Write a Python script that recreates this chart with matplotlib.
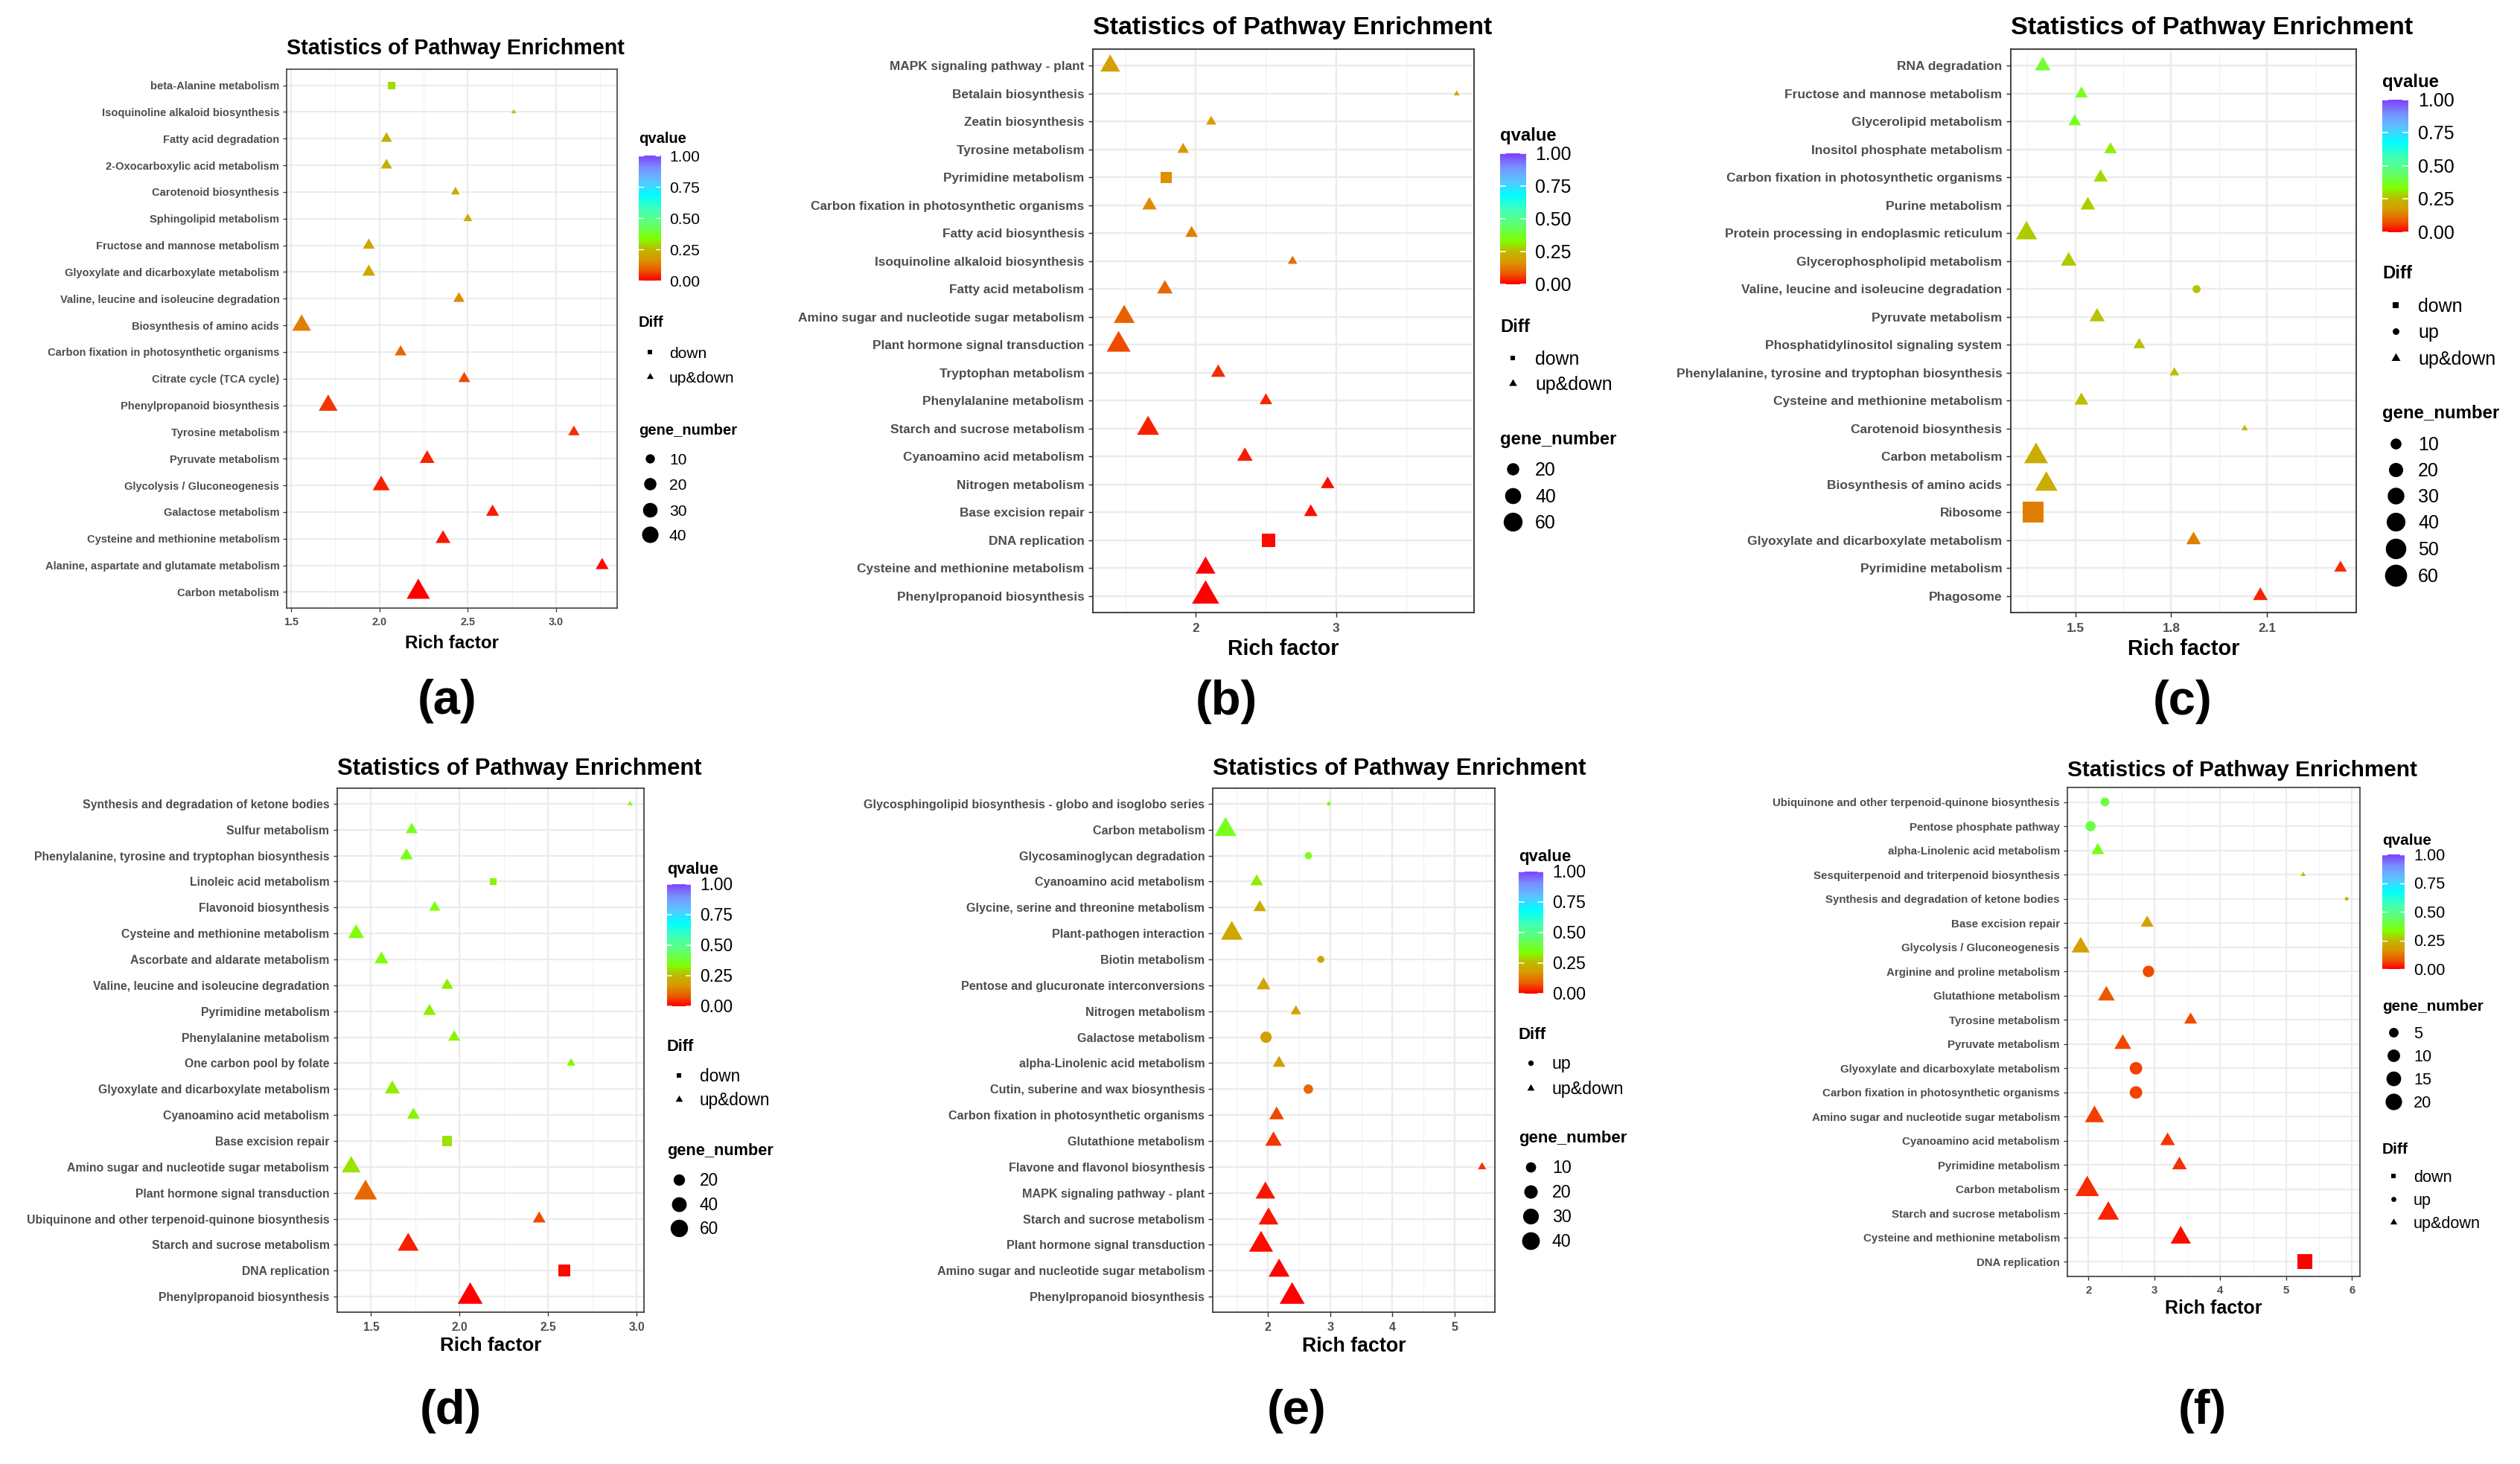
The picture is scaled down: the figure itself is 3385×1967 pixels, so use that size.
import numpy as np
import matplotlib.pyplot as plt
from matplotlib.colors import LinearSegmentedColormap
from matplotlib.path import Path

plt.rcParams['font.family'] = ['Liberation Sans', 'DejaVu Sans']

W, H = 3385, 1967
DPI = 100
PT = 72.0 / DPI   # points per pixel

# ---------------- data (pathways listed top to bottom) ----------------
pathways_a = ["beta-Alanine metabolism", "Isoquinoline alkaloid biosynthesis", "Fatty acid degradation",
              "2-Oxocarboxylic acid metabolism", "Carotenoid biosynthesis", "Sphingolipid metabolism",
              "Fructose and mannose metabolism", "Glyoxylate and dicarboxylate metabolism",
              "Valine, leucine and isoleucine degradation", "Biosynthesis of amino acids",
              "Carbon fixation in photosynthetic organisms", "Citrate cycle (TCA cycle)",
              "Phenylpropanoid biosynthesis", "Tyrosine metabolism", "Pyruvate metabolism",
              "Glycolysis / Gluconeogenesis", "Galactose metabolism", "Cysteine and methionine metabolism",
              "Alanine, aspartate and glutamate metabolism", "Carbon metabolism"]
rich_a = [2.07, 2.76, 2.04, 2.04, 2.43, 2.50, 1.94, 1.94, 2.45, 1.56,
          2.12, 2.48, 1.71, 3.10, 2.27, 2.01, 2.64, 2.36, 3.26, 2.22]
q_a = [0.29, 0.27, 0.23, 0.23, 0.22, 0.22, 0.21, 0.21, 0.15, 0.13,
       0.10, 0.07, 0.05, 0.04, 0.035, 0.03, 0.025, 0.02, 0.01, 0.0]
genes_a = [7, 3, 8, 8, 5, 5, 9, 11, 8, 27, 9, 9, 27, 8, 15, 21, 11, 15, 11, 45]
diff_a = ["down"] + ["up&down"] * 19

pathways_b = ["MAPK signaling pathway - plant", "Betalain biosynthesis", "Zeatin biosynthesis",
              "Tyrosine metabolism", "Pyrimidine metabolism", "Carbon fixation in photosynthetic organisms",
              "Fatty acid biosynthesis", "Isoquinoline alkaloid biosynthesis", "Fatty acid metabolism",
              "Amino sugar and nucleotide sugar metabolism", "Plant hormone signal transduction",
              "Tryptophan metabolism", "Phenylalanine metabolism", "Starch and sucrose metabolism",
              "Cyanoamino acid metabolism", "Nitrogen metabolism", "Base excision repair",
              "DNA replication", "Cysteine and methionine metabolism", "Phenylpropanoid biosynthesis"]
rich_b = [1.39, 3.86, 2.11, 1.91, 1.79, 1.67, 1.97, 2.69, 1.78, 1.49,
          1.45, 2.16, 2.50, 1.66, 2.35, 2.94, 2.82, 2.52, 2.07, 2.07]
q_b = [0.19, 0.19, 0.18, 0.17, 0.16, 0.15, 0.13, 0.11, 0.10, 0.09,
       0.07, 0.04, 0.035, 0.03, 0.025, 0.015, 0.012, 0.008, 0.003, 0.0]
genes_b = [32, 3, 6, 8, 23, 14, 10, 5, 17, 37, 52, 14, 10, 42, 17, 12, 12, 35, 32, 70]
diff_b = ["up&down"] * 4 + ["down"] + ["up&down"] * 12 + ["down"] + ["up&down"] * 2

pathways_c = ["RNA degradation", "Fructose and mannose metabolism", "Glycerolipid metabolism",
              "Inositol phosphate metabolism", "Carbon fixation in photosynthetic organisms",
              "Purine metabolism", "Protein processing in endoplasmic reticulum",
              "Glycerophospholipid metabolism", "Valine, leucine and isoleucine degradation",
              "Pyruvate metabolism", "Phosphatidylinositol signaling system",
              "Phenylalanine, tyrosine and tryptophan biosynthesis", "Cysteine and methionine metabolism",
              "Carotenoid biosynthesis", "Carbon metabolism", "Biosynthesis of amino acids", "Ribosome",
              "Glyoxylate and dicarboxylate metabolism", "Pyrimidine metabolism", "Phagosome"]
rich_c = [1.398, 1.519, 1.498, 1.61, 1.579, 1.539, 1.347, 1.479, 1.879, 1.568,
          1.70, 1.81, 1.519, 2.03, 1.377, 1.409, 1.368, 1.87, 2.33, 2.079]
q_c = [0.38, 0.36, 0.36, 0.31, 0.29, 0.28, 0.27, 0.27, 0.265, 0.265,
       0.26, 0.26, 0.26, 0.255, 0.22, 0.22, 0.13, 0.13, 0.04, 0.035]
genes_c = [12, 7, 7, 7, 9, 10, 26, 12, 5, 11, 6, 4, 9, 3, 35, 30, 65, 10, 7, 10]
diff_c = ["up&down"] * 8 + ["up"] + ["up&down"] * 7 + ["down"] + ["up&down"] * 3

pathways_d = ["Synthesis and degradation of ketone bodies", "Sulfur metabolism",
              "Phenylalanine, tyrosine and tryptophan biosynthesis", "Linoleic acid metabolism",
              "Flavonoid biosynthesis", "Cysteine and methionine metabolism", "Ascorbate and aldarate metabolism",
              "Valine, leucine and isoleucine degradation", "Pyrimidine metabolism", "Phenylalanine metabolism",
              "One carbon pool by folate", "Glyoxylate and dicarboxylate metabolism", "Cyanoamino acid metabolism",
              "Base excision repair", "Amino sugar and nucleotide sugar metabolism",
              "Plant hormone signal transduction", "Ubiquinone and other terpenoid-quinone biosynthesis",
              "Starch and sucrose metabolism", "DNA replication", "Phenylpropanoid biosynthesis"]
rich_d = [2.963, 1.73, 1.70, 2.19, 1.86, 1.416, 1.559, 1.93, 1.83, 1.97,
          2.63, 1.62, 1.74, 1.93, 1.388, 1.469, 2.45, 1.71, 2.59, 2.06]
q_d = [0.33, 0.36, 0.35, 0.32, 0.34, 0.33, 0.34, 0.31, 0.31, 0.32,
       0.32, 0.31, 0.32, 0.30, 0.30, 0.10, 0.07, 0.03, 0.01, 0.0]
genes_d = [2, 10, 12, 7, 8, 22, 15, 10, 12, 10, 4, 19, 12, 19, 35, 57, 12, 45, 31, 70]
diff_d = ["up&down"] * 3 + ["down"] + ["up&down"] * 9 + ["down"] + ["up&down"] * 4 + ["down", "up&down"]

pathways_e = ["Glycosphingolipid biosynthesis - globo and isoglobo series", "Carbon metabolism",
              "Glycosaminoglycan degradation", "Cyanoamino acid metabolism",
              "Glycine, serine and threonine metabolism", "Plant-pathogen interaction", "Biotin metabolism",
              "Pentose and glucuronate interconversions", "Nitrogen metabolism", "Galactose metabolism",
              "alpha-Linolenic acid metabolism", "Cutin, suberine and wax biosynthesis",
              "Carbon fixation in photosynthetic organisms", "Glutathione metabolism",
              "Flavone and flavonol biosynthesis", "MAPK signaling pathway - plant",
              "Starch and sucrose metabolism", "Plant hormone signal transduction",
              "Amino sugar and nucleotide sugar metabolism", "Phenylpropanoid biosynthesis"]
rich_e = [2.98, 1.32, 2.65, 1.82, 1.87, 1.42, 2.85, 1.93, 2.45, 1.97,
          2.18, 2.65, 2.14, 2.09, 5.44, 1.96, 2.01, 1.89, 2.18, 2.39]
q_e = [0.33, 0.36, 0.35, 0.31, 0.22, 0.21, 0.20, 0.19, 0.19, 0.18,
       0.18, 0.10, 0.07, 0.05, 0.045, 0.02, 0.02, 0.015, 0.005, 0.0]
genes_e = [2, 32, 4, 8, 8, 32, 4, 10, 5, 13, 8, 8, 12, 16, 3, 25, 25, 41, 29, 45]
diff_e = ["up", "up&down", "up", "up&down", "up&down", "up&down", "up", "up&down", "up&down", "up",
          "up&down", "up"] + ["up&down"] * 8

pathways_f = ["Ubiquinone and other terpenoid-quinone biosynthesis", "Pentose phosphate pathway",
              "alpha-Linolenic acid metabolism", "Sesquiterpenoid and triterpenoid biosynthesis",
              "Synthesis and degradation of ketone bodies", "Base excision repair",
              "Glycolysis / Gluconeogenesis", "Arginine and proline metabolism", "Glutathione metabolism",
              "Tyrosine metabolism", "Pyruvate metabolism", "Glyoxylate and dicarboxylate metabolism",
              "Carbon fixation in photosynthetic organisms", "Amino sugar and nucleotide sugar metabolism",
              "Cyanoamino acid metabolism", "Pyrimidine metabolism", "Carbon metabolism",
              "Starch and sucrose metabolism", "Cysteine and methionine metabolism", "DNA replication"]
rich_f = [2.25, 2.03, 2.14, 5.26, 5.92, 2.89, 1.88, 2.91, 2.27, 3.55,
          2.52, 2.72, 2.72, 2.09, 3.20, 3.38, 1.98, 2.30, 3.40, 5.29]
q_f = [0.40, 0.41, 0.35, 0.26, 0.24, 0.19, 0.19, 0.07, 0.08, 0.07,
       0.065, 0.06, 0.06, 0.055, 0.05, 0.045, 0.04, 0.035, 0.015, 0.0]
genes_f = [4, 6, 5, 1, 1, 5, 12, 8, 10, 5, 10, 10, 10, 14, 7, 7, 23, 18, 16, 20]
diff_f = ["up", "up", "up&down", "up&down", "up", "up&down", "up&down", "up", "up&down", "up&down",
          "up&down", "up", "up"] + ["up&down"] * 6 + ["down"]

# ---------------- styling helpers ----------------
qcmap = LinearSegmentedColormap.from_list("qvalue", [
    (0.0, "#FF0000"), (0.08, "#EC5A00"), (0.17, "#D89A00"), (0.25, "#C0B800"),
    (0.33, "#80FF00"), (0.45, "#60FF70"), (0.57, "#40FFB8"), (0.68, "#00FFFF"),
    (0.80, "#60C0FF"), (0.90, "#7890FF"), (1.0, "#8040FF")])

TRI = Path([(0, 1), (-0.866, -0.5), (0.866, -0.5), (0, 1)],
           [Path.MOVETO, Path.LINETO, Path.LINETO, Path.CLOSEPOLY])
SHAPES = {"down": "s", "up": "o", "up&down": TRI}
SHAPE_FACTOR = {"down": 0.665, "up": 0.75, "up&down": 1.01}


def ggsize(g, lo, hi):
    # scale_size(range = c(1, 6)) -> point fontsize in R points
    t = (np.asarray(g, float) - lo) / (hi - lo)
    return (1 + 5 * np.sqrt(np.clip(t, 0, 1))) * 2.845 + 0.945


def marker_pt(F, K, shape):
    px = SHAPE_FACTOR[shape] * np.asarray(F) * K
    if shape == "up&down":
        return px * PT * 2 / np.sqrt(3)
    return px * PT


panels = [
    dict(tag="(a)", names=pathways_a, rich=rich_a, q=q_a, genes=genes_a, diff=diff_a,
         box=(385, 93, 829, 817), title_y=63, xlab_y=862, sf=1.0, K=1.72,
         xt=[1.5, 2.0, 2.5, 3.0], xm=[1.75, 2.25, 2.75, 3.25], fmt="{:.1f}",
         cbar=(858, 209, 887, 377), qt=187, dt=433, drows=[473, 506], dkeys=["down", "up&down"],
         gt=578, grows=[616, 650, 685, 718], gkeys=[10, 20, 30, 40], kx=873, lx=899, lab=(601, 942)),
    dict(tag="(b)", names=pathways_b, rich=rich_b, q=q_b, genes=genes_b, diff=diff_b,
         box=(1468, 66, 1980, 823), title_y=34, xlab_y=870, sf=1.185, K=2.0,
         xt=[2, 3], xm=[1.5, 2.5, 3.5], fmt="{:.0f}",
         cbar=(2015, 206, 2050, 382), qt=183, dt=439, drows=[481, 515], dkeys=["down", "up&down"],
         gt=590, grows=[630, 666, 701], gkeys=[20, 40, 60], kx=2032, lx=2062, lab=(1647, 943)),
    dict(tag="(c)", names=pathways_c, rich=rich_c, q=q_c, genes=genes_c, diff=diff_c,
         box=(2701, 66, 3165, 823), title_y=34, xlab_y=870, sf=1.19, K=2.27,
         xt=[1.5, 1.8, 2.1], xm=[1.35, 1.65, 1.95, 2.25], fmt="{:.1f}",
         cbar=(3200, 134, 3235, 312), qt=111, dt=367, drows=[410, 445, 481], dkeys=["down", "up", "up&down"],
         gt=555, grows=[596, 631, 666, 701, 737, 773], gkeys=[10, 20, 30, 40, 50, 60],
         kx=3218, lx=3248, lab=(2932, 943)),
    dict(tag="(d)", names=pathways_d, rich=rich_d, q=q_d, genes=genes_d, diff=diff_d,
         box=(453, 1059, 865, 1763), title_y=1030, xlab_y=1806, sf=1.08, K=1.84,
         xt=[1.5, 2.0, 2.5, 3.0], xm=[1.75, 2.25, 2.75], fmt="{:.1f}",
         cbar=(896, 1188, 928, 1352), qt=1168, dt=1406, drows=[1445, 1477], dkeys=["down", "up&down"],
         gt=1546, grows=[1585, 1618, 1650], gkeys=[20, 40, 60], kx=912, lx=940, lab=(605, 1896)),
    dict(tag="(e)", names=pathways_e, rich=rich_e, q=q_e, genes=genes_e, diff=diff_e,
         box=(1629, 1059, 2008, 1763), title_y=1030, xlab_y=1806, sf=1.105, K=1.85,
         xt=[2, 3, 4, 5], xm=[1.5, 2.5, 3.5, 4.5, 5.5], fmt="{:.0f}",
         cbar=(2040, 1171, 2073, 1335), qt=1151, dt=1390, drows=[1428, 1462], dkeys=["up", "up&down"],
         gt=1529, grows=[1568, 1601, 1634, 1667], gkeys=[10, 20, 30, 40], kx=2056, lx=2085, lab=(1742, 1896)),
    dict(tag="(f)", names=pathways_f, rich=rich_f, q=q_f, genes=genes_f, diff=diff_f,
         box=(2777, 1058, 3170, 1715), title_y=1032, xlab_y=1756, sf=1.033, K=1.74,
         xt=[2, 3, 4, 5, 6], xm=[2.5, 3.5, 4.5, 5.5], fmt="{:.0f}",
         cbar=(3200, 1148, 3230, 1302), qt=1129, dt=1544, drows=[1580, 1611, 1642],
         dkeys=["down", "up", "up&down"],
         gt=1352, grows=[1387, 1418, 1449, 1480], gkeys=[5, 10, 15, 20], kx=3215, lx=3242, lab=(2958, 1896)),
]

fig = plt.figure(figsize=(W / DPI, H / DPI), dpi=DPI)
fig.patch.set_facecolor("white")

ov = fig.add_axes([0, 0, 1, 1])
ov.set_xlim(0, W)
ov.set_ylim(H, 0)
ov.axis("off")
ov.patch.set_alpha(0)


def frac(x0, y0, x1, y1):
    return [x0 / W, 1 - y1 / H, (x1 - x0) / W, (y1 - y0) / H]


for p in panels:
    sf, K = p["sf"], p["K"]
    x0, y0, x1, y1 = p["box"]
    ax = fig.add_axes(frac(x0, y0, x1, y1))
    n = len(p["names"])
    ypos = np.arange(n)[::-1]
    rich = np.array(p["rich"])
    q = np.array(p["q"])
    g = np.array(p["genes"])
    diff = np.array(p["diff"])
    lo, hi = g.min(), g.max()
    F = ggsize(g, lo, hi)
    for kind in ["down", "up", "up&down"]:
        m = diff == kind
        if m.any():
            ax.scatter(rich[m], ypos[m], s=marker_pt(F[m], K, kind) ** 2, c=q[m], cmap=qcmap,
                       vmin=0, vmax=1, marker=SHAPES[kind], linewidths=0, zorder=3)
    span = rich.max() - rich.min()
    ax.set_xlim(rich.min() - 0.05 * span, rich.max() + 0.05 * span)
    ax.set_ylim(-0.6, n - 0.4)
    ax.set_yticks(ypos)
    ax.set_yticklabels(p["names"], fontweight="bold", color="#4D4D4D", fontsize=10.5 * sf)
    ax.set_xticks(p["xt"])
    ax.set_xticklabels([p["fmt"].format(v) for v in p["xt"]], fontweight="bold",
                       color="#4D4D4D", fontsize=10.4 * sf)
    ax.set_xticks(p["xm"], minor=True)
    ax.tick_params(which="major", length=3.6 * sf, width=0.9 * sf, color="#333333")
    ax.tick_params(axis="y", pad=3.4 * sf)
    ax.tick_params(axis="x", pad=5.0 * sf)
    ax.tick_params(which="minor", length=0)
    ax.grid(which="major", color="#EBEBEB", linewidth=1.5 * sf)
    ax.grid(which="minor", axis="x", color="#F2F2F2", linewidth=0.8 * sf)
    ax.set_axisbelow(True)
    for s in ax.spines.values():
        s.set_color("#333333")
        s.set_linewidth(1.1 * sf)

    # titles
    em_t = 20.7 * sf / PT
    ov.text(x0, p["title_y"] + 0.358 * em_t, "Statistics of Pathway Enrichment", fontsize=20.7 * sf,
            fontweight="bold", ha="left", va="baseline")
    em_x = 17.4 * sf / PT
    ov.text((x0 + x1) / 2, p["xlab_y"] + 0.358 * em_x, "Rich factor", fontsize=17.4 * sf,
            fontweight="bold", ha="center", va="baseline")
    ov.text(p["lab"][0], p["lab"][1], p["tag"], fontsize=47, fontweight="bold", ha="center", va="center")

    # colour bar legend
    cx0, cy0, cx1, cy1 = p["cbar"]
    cax = fig.add_axes(frac(cx0, cy0, cx1, cy1))
    cax.imshow(np.linspace(1, 0, 300)[:, None], aspect="auto", cmap=qcmap, vmin=0, vmax=1,
               extent=(0, 1, 0, 1))
    for v in [0, 0.25, 0.5, 0.75, 1.0]:
        cax.plot([0, 0.2], [v, v], color="white", lw=1.0 * sf)
        cax.plot([0.8, 1], [v, v], color="white", lw=1.0 * sf)
    cax.set_xlim(0, 1)
    cax.set_ylim(0, 1)
    cax.axis("off")
    lt = 14.5 * sf
    ll = 15.1 * sf
    em_l = ll / PT
    ov.text(cx0, p["qt"], "qvalue", fontsize=lt, fontweight="bold", ha="left", va="center")
    for v in [0, 0.25, 0.5, 0.75, 1.0]:
        yy = cy1 - v * (cy1 - cy0)
        ov.text(p["lx"], yy + 0.358 * em_l, "{:.2f}".format(v), fontsize=ll, ha="left", va="baseline")

    # Diff legend
    ov.text(cx0, p["dt"], "Diff", fontsize=lt, fontweight="bold", ha="left", va="center")
    Fk = 1.5 * 2.845 + 0.945
    for kind, yy in zip(p["dkeys"], p["drows"]):
        ov.scatter([p["kx"]], [yy], s=marker_pt(Fk, K, kind) ** 2, marker=SHAPES[kind],
                   color="black", linewidths=0, clip_on=False)
        ov.text(p["lx"], yy + 0.358 * em_l, kind, fontsize=ll, ha="left", va="baseline")

    # gene_number legend
    ov.text(cx0, p["gt"], "gene_number", fontsize=lt, fontweight="bold", ha="left", va="center")
    for gk, yy in zip(p["gkeys"], p["grows"]):
        ov.scatter([p["kx"]], [yy], s=marker_pt(ggsize(gk, lo, hi), K, "up") ** 2, marker="o",
                   color="black", linewidths=0, clip_on=False)
        ov.text(p["lx"], yy + 0.358 * em_l, str(gk), fontsize=ll, ha="left", va="baseline")

fig.savefig("out.png", dpi=DPI, facecolor="white")
